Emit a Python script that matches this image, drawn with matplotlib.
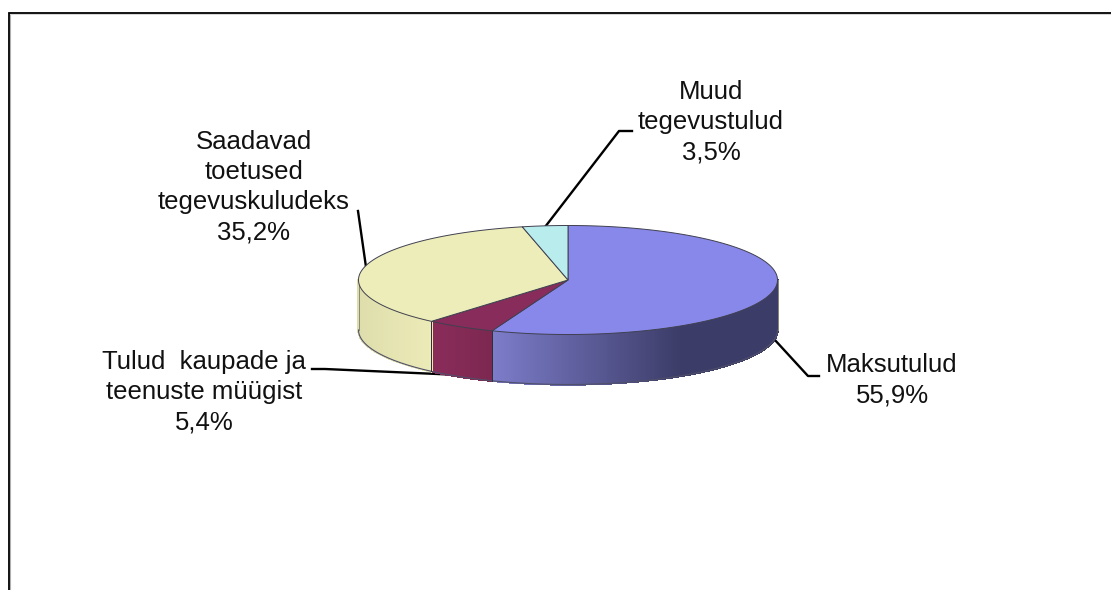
import numpy as np
import matplotlib
matplotlib.use('Agg')
import matplotlib.pyplot as plt
from matplotlib.colors import to_rgb

labels = ['Maksutulud', 'Tulud  kaupade ja\nteenuste müügist', 'Saadavad\ntoetused\ntegevuskuludeks', 'Muud\ntegevustulud']
shares = [55.9, 5.4, 35.2, 3.5]
pct_text = ['55,9%', '5,4%', '35,2%', '3,5%']
top_colors = ['#8888ea', '#882c5c', '#ededba', '#b9ecec']
side_left = ['#7c7cca', '#8a2c5a', '#dedeac', '#b9ecec']
side_right = ['#3c3c68', '#7c2850', '#ecebb8', '#b9ecec']

plt.rcParams['font.family'] = ['Liberation Sans', 'DejaVu Sans']

cx, cy = 568, 280
rx, ry = 209.5, 54.5
depth = 50

fig = plt.figure(figsize=(11.11, 5.9), dpi=100)
ax = fig.add_axes([0, 0, 1, 1])
ax.set_xlim(0, 1111)
ax.set_ylim(590, 0)
ax.axis('off')


def ring(a0, a1, n=300):
    # clockwise from 12 o'clock, squashed for the fake 3d look
    t = np.radians(np.linspace(a0, a1, n))
    return cx + rx * np.sin(t), cy - ry * np.cos(t)


# frame of the slide picture
ax.plot([9.7, 9.7], [590, 14], color='#b0b0b0', lw=0.8, zorder=1, solid_capstyle='butt')
ax.plot([9, 1111], [14.3, 14.3], color='#d0d0d0', lw=0.6, zorder=1)
ax.plot([8.5, 8.5, 1111], [590, 13, 13], color='black', lw=1.3, zorder=2, solid_joinstyle='miter')

edges = np.cumsum([0] + shares) * 3.6

# leader lines, under the pie
ax.plot([366, 358], [267, 211], color='black', lw=1.7, zorder=2)
ax.plot([460, 325, 312], [375, 369, 369], color='black', lw=1.7, zorder=2)
ax.plot([774, 808, 819], [339, 376, 376], color='black', lw=1.7, zorder=2)

# sides first (only the front half shows)
for i in range(len(shares)):
    a0, a1 = max(edges[i], 90), min(edges[i + 1], 270)
    if a1 <= a0:
        continue
    x, y = ring(a0, a1)
    cl, cr = np.array(to_rgb(side_left[i])), np.array(to_rgb(side_right[i]))
    for j in range(len(x) - 1):
        # blue one runs dark on the right and stays dark past the middle
        f = (x[j] - x.min()) / (x.max() - x.min())
        if i == 0:
            f = min(f / 0.66, 1)
        c = cl + (cr - cl) * f
        ax.fill([x[j], x[j + 1], x[j + 1], x[j]],
                [y[j], y[j + 1], y[j + 1] + depth, y[j] + depth],
                color=c, lw=1, antialiased=False, zorder=3)
    ax.plot(x, y + depth, color='#50506a', lw=0.8, zorder=4)
    # seams between slices are dark, the two outer ends stay faint
    for k, a in ((0, a0), (-1, a1)):
        col = '#8a8a78' if a in (90, 270) else '#30303c'
        ax.plot([x[k], x[k]], [y[k], y[k] + depth], color=col, lw=0.7, zorder=4)

# top face
for i in range(len(shares)):
    x, y = ring(edges[i], edges[i + 1])
    ax.fill(np.r_[cx, x], np.r_[cy, y], facecolor=top_colors[i],
            edgecolor='#404050', lw=0.7, zorder=5)

# this leader lands on top of the pie edge
ax.plot([545, 619, 632], [227, 131, 131], color='black', lw=1.7, zorder=2)

txt = dict(fontsize=18.5, ha='center', va='center', linespacing=1.33, color='#111111', zorder=7)
ax.text(892, 380, labels[0] + '\n' + pct_text[0], **txt)
ax.text(204, 392, labels[1] + '\n' + pct_text[1], **txt)
ax.text(254, 187, labels[2] + '\n' + pct_text[2], **txt)
ax.text(711, 122, labels[3] + '\n' + pct_text[3], **txt)

fig.savefig('out.png', dpi=100)
